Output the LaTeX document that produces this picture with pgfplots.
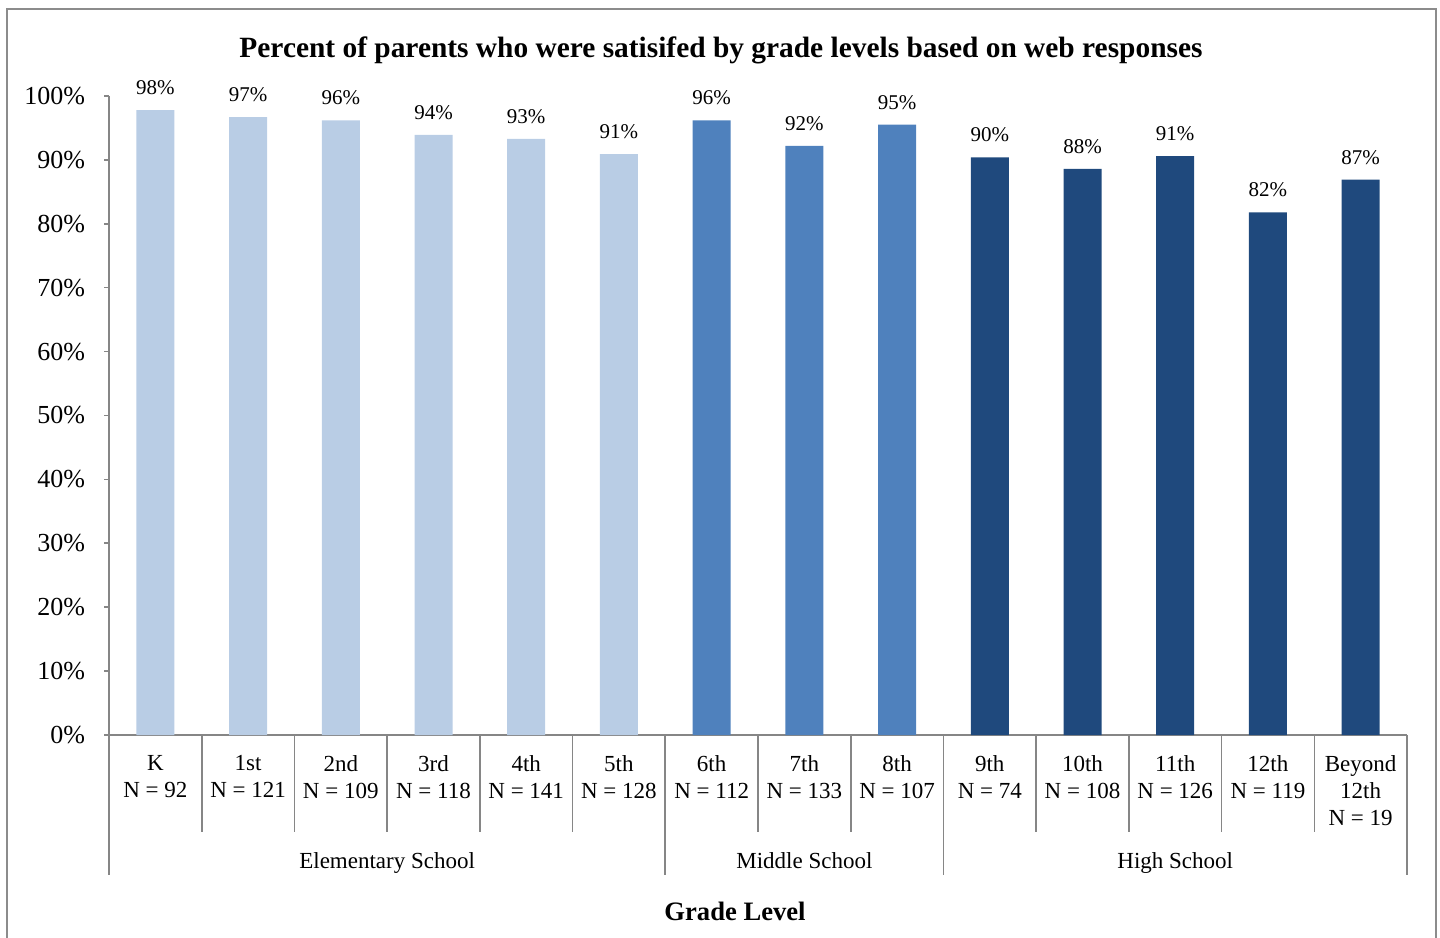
\documentclass[border=0pt]{standalone}
\usepackage{fontspec}
\setmainfont{Liberation Serif}
\usepackage{pgfplots}
\pgfplotsset{compat=1.18}
\definecolor{lightb}{HTML}{B9CDE5}
\definecolor{midb}{HTML}{4F81BD}
\definecolor{darkb}{HTML}{1F497D}
\definecolor{axisgray}{HTML}{868686}
\definecolor{framegray}{HTML}{8C8C8C}
\begin{document}
\begin{tikzpicture}
\useasboundingbox (0,0) rectangle (720pt,468.5pt);
\draw[framegray, line width=0.6pt] (3.5pt,-2pt) -- (3.5pt,464pt) -- (718pt,464pt) -- (718pt,-2pt);
\begin{axis}[
  at={(54.5pt,101pt)}, anchor=south west,
  scale only axis, width=649pt, height=319.5pt,
  ymin=0, ymax=100, xmin=-0.5, xmax=13.5,
  clip=false,
  axis x line=bottom, axis y line=left,
  axis line style={draw=axisgray, line width=0.8pt, -},
  ytick={0,10,...,100},
  yticklabel={\pgfmathprintnumber{\tick}\%},
  /pgf/number format/assume math mode=true,
  yticklabel style={font=\fontsize{13}{15}\selectfont, xshift=-6pt},
  y tick style={draw=axisgray, line width=0.8pt},
  tick align=outside, major tick length=2.5pt,
  xtick={0,...,13},
  x tick style={draw=none},
  xticklabels={{K\\N = 92},{1st\\N = 121},{2nd\\N = 109},{3rd\\N = 118},{4th\\N = 141},{5th\\N = 128},{6th\\N = 112},{7th\\N = 133},{8th\\N = 107},{9th\\N = 74},{10th\\N = 108},{11th\\N = 126},{12th\\N = 119},{Beyond\\12th\\N = 19}},
  xticklabel style={align=center, font=\fontsize{11.5}{13.5}\selectfont, anchor=north, yshift=-4pt},
  ybar, bar width=19pt, bar shift=0pt,
  nodes near coords={\pgfplotspointmeta\%},
  point meta=explicit symbolic,
  every node near coord/.append style={font=\fontsize{10.5}{12}\selectfont, color=black, yshift=4pt},
]
\addplot[fill=lightb, draw=none] table[meta=lab] {
x y lab
0 97.8 98
1 96.7 97
2 96.2 96
3 93.9 94
4 93.3 93
5 90.9 91
};
\addplot[fill=midb, draw=none] table[meta=lab] {
x y lab
6 96.2 96
7 92.2 92
8 95.5 95
};
\addplot[fill=darkb, draw=none] table[meta=lab] {
x y lab
9 90.4 90
10 88.6 88
11 90.6 91
12 81.8 82
13 86.9 87
};
\pgfplotsinvokeforeach{0.5,1.5,2.5,3.5,4.5,6.5,7.5,9.5,10.5,11.5,12.5}{
  \draw[axisgray, line width=0.8pt] (axis cs:#1,0) -- ++(0pt,-48.5pt);
}
\pgfplotsinvokeforeach{-0.5,5.5,8.5,13.5}{
  \draw[axisgray, line width=0.8pt] (axis cs:#1,0) -- ++(0pt,-70pt);
}
\node[font=\fontsize{11.5}{13.5}\selectfont, anchor=base] at (axis cs:2.5,0) [yshift=-66.5pt] {Elementary School};
\node[font=\fontsize{11.5}{13.5}\selectfont, anchor=base] at (axis cs:7,0) [yshift=-66.5pt] {Middle School};
\node[font=\fontsize{11.5}{13.5}\selectfont, anchor=base] at (axis cs:11,0) [yshift=-66.5pt] {High School};
\end{axis}
\node[font=\bfseries\fontsize{14.7}{17}\selectfont] at (360.5pt,443.5pt) {Percent of parents who were satisifed by grade levels based on web responses};
\node[font=\bfseries\fontsize{13.3}{16}\selectfont] at (367.5pt,13pt) {Grade Level};
\end{tikzpicture}
\end{document}
